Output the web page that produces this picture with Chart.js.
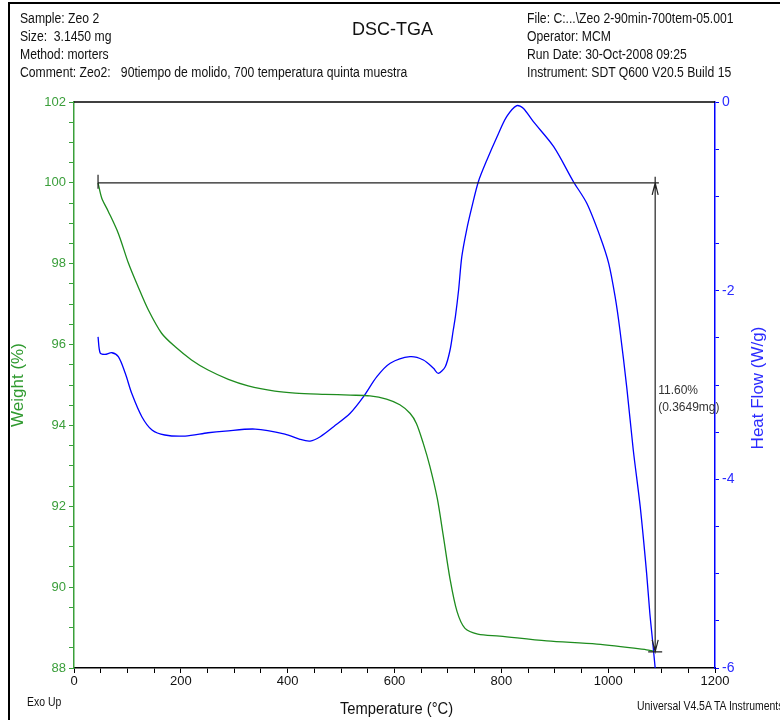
<!DOCTYPE html>
<html>
<head>
<meta charset="utf-8">
<script src="https://cdn.jsdelivr.net/npm/chart.js@4.4.1/dist/chart.umd.min.js"></script>
<style>
  html, body { margin: 0; padding: 0; background: #fff; }
  #wrap { position: relative; width: 780px; height: 720px; overflow: hidden; }
  #wrap canvas { position: absolute; left: 0; top: 0; }
  .frame { position: absolute; left: 8px; top: 2px; width: 800px; height: 800px; border: 2px solid #000; box-sizing: border-box; }
  .txt { position: absolute; font-family: 'Liberation Sans', Arial, sans-serif; font-size: 14px; color: #111; white-space: pre; line-height: 18px; transform: scaleX(0.87); transform-origin: left top; }
  .title { position: absolute; font-family: 'Liberation Sans', Arial, sans-serif; font-size: 18px; color: #111; }
  .axt { position: absolute; font-family: 'Liberation Sans', Arial, sans-serif; font-size: 16px; white-space: nowrap; }
</style>
</head>
<body>
<div id="wrap">
  <canvas id="chart" width="780" height="720"></canvas>
  <div class="frame"></div>
  <div class="txt" style="left:20px; top:9px;">Sample: Zeo 2
Size:  3.1450 mg
Method: morters
Comment: Zeo2:   90tiempo de molido, 700 temperatura quinta muestra</div>
  <div class="txt" style="left:527px; top:9px;">File: C:...\Zeo 2-90min-700tem-05.001
Operator: MCM
Run Date: 30-Oct-2008 09:25
Instrument: SDT Q600 V20.5 Build 15</div>
  <div class="title" style="left:352px; top:19px;">DSC-TGA</div>
  <div class="axt" style="left:340px; top:700px; color:#111; transform: scaleX(0.92); transform-origin: left top;">Temperature (°C)</div>
  <div class="txt" style="left:27px; top:693px; font-size:12px;">Exo Up</div>
  <div class="txt" style="left:637px; top:697px; font-size:12px;">Universal V4.5A TA Instruments</div>
  <div class="axt" style="left:18px; top:385px; color:#2f9a2f; transform: translate(-50%, -50%) rotate(-90deg); font-size:17px;">Weight (%)</div>
  <div class="axt" style="left:758px; top:388px; color:#2b2bff; transform: translate(-50%, -50%) rotate(-90deg); font-size:17px;">Heat Flow (W/g)</div>
</div>
<script>
// TGA weight curve
const weightTemp = [45, 52, 64, 83, 102, 120, 139, 164, 189, 220, 251, 289, 326, 376, 414, 470, 517, 554, 585, 610, 629, 641, 654, 666, 680, 691, 704, 717, 732, 756, 797, 885, 979, 1072, 1084];
const weightPct = [100.0, 99.62, 99.3, 98.75, 98.01, 97.43, 96.86, 96.28, 95.95, 95.62, 95.37, 95.14, 94.98, 94.85, 94.80, 94.77, 94.75, 94.73, 94.65, 94.51, 94.30, 94.05, 93.55, 93.0, 92.2, 91.3, 90.2, 89.4, 88.98, 88.84, 88.79, 88.67, 88.59, 88.45, 88.42];

// DSC heat flow curve
const heatTemp = [45, 49, 58, 71, 83, 96, 108, 127, 146, 170, 208, 251, 283, 339, 395, 423, 442, 461, 486, 517, 542, 567, 592, 629, 654, 673, 682, 695, 704, 710, 714, 720, 726, 735, 745, 757, 773, 792, 810, 829, 841, 860, 898, 935, 960, 985, 1001, 1013, 1022, 1035, 1047, 1060, 1072, 1078, 1083, 1088];
const heatFlow = [-2.49, -2.66, -2.675, -2.658, -2.70, -2.876, -3.088, -3.336, -3.477, -3.53, -3.541, -3.506, -3.488, -3.467, -3.52, -3.576, -3.594, -3.548, -3.442, -3.30, -3.124, -2.912, -2.77, -2.70, -2.735, -2.823, -2.876, -2.806, -2.629, -2.417, -2.276, -1.993, -1.64, -1.357, -1.11, -0.845, -0.615, -0.368, -0.156, -0.039, -0.067, -0.209, -0.474, -0.845, -1.074, -1.428, -1.71, -2.064, -2.417, -3.035, -3.689, -4.29, -4.997, -5.42, -5.703, -6.0];

// axis ticks
const tempLabels = [0, 200, 400, 600, 800, 1000, 1200];
const weightLabels = [88, 90, 92, 94, 96, 98, 100, 102];
const heatLabels = [0, -2, -4, -6];

// weight step annotation
const stepStartT = 45;
const stepEndT = 1088;
const stepLineEndT = 1095;
const stepTop = 100;
const stepBottom = 88.40;
const stepText = ['11.60%', '(0.3649mg)'];
const stepTextAt = [94.85, 94.45];

const FONT = "'Liberation Sans', Arial, sans-serif";
const GREEN = '#1e8c1e';
const BLUE = '#0000ff';

const toPoints = (xs, ys) => xs.map((x, i) => ({ x, y: ys[i] }));

const stepAnnotation = {
    id: 'stepAnnotation',
    afterDatasetsDraw(chart) {
        const { ctx, chartArea, scales } = chart;
        const x = scales.x, y = scales.y;
        ctx.save();
        // top border of plot box
        ctx.strokeStyle = '#000';
        ctx.lineWidth = 1.5;
        ctx.beginPath();
        ctx.moveTo(chartArea.left, chartArea.top);
        ctx.lineTo(chartArea.right, chartArea.top);
        ctx.stroke();

        const x0 = x.getPixelForValue(stepStartT);
        const x1 = x.getPixelForValue(stepEndT);
        const xe = x.getPixelForValue(stepLineEndT);
        const yt = y.getPixelForValue(stepTop);
        const yb = y.getPixelForValue(stepBottom);
        ctx.strokeStyle = '#222';
        ctx.lineWidth = 1.2;
        ctx.beginPath();
        ctx.moveTo(x0, yt); ctx.lineTo(xe, yt);
        ctx.moveTo(x0, yt - 8); ctx.lineTo(x0, yt + 6);
        ctx.moveTo(x1, yt - 6); ctx.lineTo(x1, yb);
        ctx.moveTo(x1 - 7, yb); ctx.lineTo(x1 + 7, yb);
        // arrow heads
        ctx.moveTo(x1 - 3, yt + 12); ctx.lineTo(x1, yt); ctx.lineTo(x1 + 3, yt + 12);
        ctx.moveTo(x1 - 3, yb - 12); ctx.lineTo(x1, yb); ctx.lineTo(x1 + 3, yb - 12);
        ctx.stroke();

        ctx.fillStyle = '#333';
        ctx.font = '12px ' + FONT;
        ctx.textAlign = 'left';
        ctx.textBaseline = 'middle';
        stepText.forEach((t, i) => ctx.fillText(t, x1 + 3, y.getPixelForValue(stepTextAt[i])));
        ctx.restore();
    }
};

new Chart(document.getElementById('chart').getContext('2d'), {
    type: 'line',
    data: {
        datasets: [
            {
                label: 'Weight (%)',
                data: toPoints(weightTemp, weightPct),
                yAxisID: 'y',
                borderColor: GREEN,
                borderWidth: 1.3,
                pointRadius: 0,
                tension: 0.3,
                fill: false,
            },
            {
                label: 'Heat Flow (W/g)',
                data: toPoints(heatTemp, heatFlow),
                yAxisID: 'y2',
                borderColor: BLUE,
                borderWidth: 1.3,
                pointRadius: 0,
                tension: 0.3,
                fill: false,
            },
        ],
    },
    options: {
        responsive: false,
        animation: false,
        layout: { padding: { top: 102, left: 0, right: 0, bottom: 0 } },
        plugins: { legend: { display: false }, tooltip: { enabled: false } },
        scales: {
            x: {
                type: 'linear',
                min: 0, max: 1200,
                afterFit: (s) => { s.height = 52; },
                ticks: {
                    stepSize: 50, autoSkip: false, maxRotation: 0, padding: 1,
                    color: '#111', font: { family: FONT, size: 13 },
                    callback: (v) => tempLabels.includes(v) ? String(v) : '',
                },
                grid: { drawOnChartArea: false, tickLength: 5, color: '#000' },
                border: { color: '#000', width: 1.5 },
            },
            y: {
                position: 'left',
                min: 88, max: 102,
                afterFit: (s) => { s.width = 74; },
                ticks: {
                    stepSize: 0.5, autoSkip: false, padding: 3,
                    color: '#3a9e3a', font: { family: FONT, size: 13 },
                    callback: (v) => weightLabels.includes(v) ? String(v) : '',
                },
                grid: { drawOnChartArea: false, tickLength: 5, color: '#3aa03a' },
                border: { color: '#3aa03a', width: 1.5 },
            },
            y2: {
                position: 'right',
                min: -6, max: 0,
                afterFit: (s) => { s.width = 65; },
                ticks: {
                    stepSize: 0.5, autoSkip: false, padding: 3,
                    color: '#2b2bff', font: { family: FONT, size: 14 },
                    callback: (v) => heatLabels.includes(v) ? String(v) : '',
                },
                grid: { drawOnChartArea: false, tickLength: 4, color: BLUE },
                border: { color: BLUE, width: 1.5 },
            },
        },
    },
    plugins: [stepAnnotation],
});
</script>
</body>
</html>
